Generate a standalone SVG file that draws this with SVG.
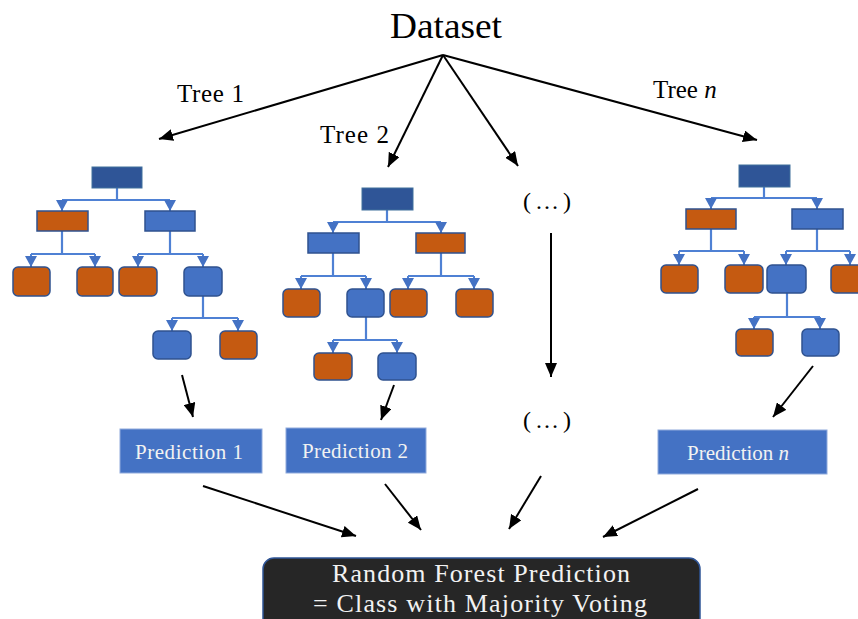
<svg xmlns="http://www.w3.org/2000/svg" width="858" height="619" viewBox="0 0 858 619">
<defs>
<marker id="ah" markerUnits="userSpaceOnUse" markerWidth="14" markerHeight="12" viewBox="0 0 14 12" refX="14" refY="6" orient="auto"><path d="M0,0 L14,6 L0,12 z" fill="#000"/></marker>
<marker id="tb" markerUnits="userSpaceOnUse" markerWidth="11" markerHeight="12" viewBox="0 0 11 12" refX="11" refY="6" orient="auto"><path d="M0,0 L11,6 L0,12 z" fill="#4472C4"/></marker>
<style>
.root{fill:#2F5597;stroke:#41719C;stroke-width:1}
.or{fill:#C55A11;stroke:#2F528F;stroke-width:1.5}
.bl{fill:#4472C4;stroke:#2F528F;stroke-width:1.5}
.tc{fill:none;stroke:#4F81D4;stroke-width:2.2}
.ta{fill:none;stroke:#4F81D4;stroke-width:2;marker-end:url(#tb)}
.ar{fill:none;stroke:#000;stroke-width:2;marker-end:url(#ah)}
.t{font-family:"Liberation Serif","Times New Roman",serif;fill:#000}
.pred{fill:#4472C4;stroke:#8FAADC;stroke-width:1}
.pt{font-family:"Liberation Serif","Times New Roman",serif;fill:#F2F2F2;font-size:21px}
.ft{font-family:"Liberation Serif","Times New Roman",serif;fill:#F2F2F2;font-size:26px}
</style>
</defs>
<rect width="858" height="619" fill="#fff"/>

<g id="labels">
<text class="t" x="390" y="38" font-size="35" textLength="112" lengthAdjust="spacingAndGlyphs">Dataset</text>
<text class="t" x="177" y="102" font-size="25" textLength="67">Tree 1</text>
<text class="t" x="320" y="143" font-size="25" textLength="69">Tree 2</text>
<text class="t" x="653" y="98" font-size="25">Tree <tspan font-style="italic">n</tspan></text>
<text class="t" x="523" y="209" font-size="24" textLength="48">(…)</text>
<text class="t" x="523" y="428" font-size="24" textLength="48">(…)</text>
</g>

<g id="connectors">
<path class="ar" d="M443,55 L159,139"/>
<path class="ar" d="M443,55 L388,167"/>
<path class="ar" d="M443,55 L518,166"/>
<path class="ar" d="M443,55 L757,140"/>
<path class="ar" d="M551,233 L551,377"/>
<path class="ar" d="M182,375 L193,417"/>
<path class="ar" d="M394,385 L381,420"/>
<path class="ar" d="M813,366 L773,417"/>
<path class="ar" d="M203,486 L356,536"/>
<path class="ar" d="M385,484 L421,530"/>
<path class="ar" d="M541,476 L509,529"/>
<path class="ar" d="M698,489 L603,537"/>
</g>

<g id="tree1">
<path class="tc" d="M117,188 V200 M62,200 H170 M62,231 V254 M31,254 H95 M170,231 V254 M138,254 H203 M203,296 V318 M172,318 H238"/>
<path class="ta" d="M62,200 V211"/>
<path class="ta" d="M170,200 V211"/>
<path class="ta" d="M31,254 V267"/>
<path class="ta" d="M95,254 V267"/>
<path class="ta" d="M138,254 V267"/>
<path class="ta" d="M203,254 V267"/>
<path class="ta" d="M172,318 V331"/>
<path class="ta" d="M238,318 V331"/>
<rect class="root" x="92" y="167" width="50" height="21"/>
<rect class="or" x="37" y="211" width="51" height="20"/>
<rect class="bl" x="145" y="211" width="50" height="20"/>
<rect class="or" x="13" y="267" width="37" height="29" rx="5"/>
<rect class="or" x="77" y="267" width="36" height="29" rx="5"/>
<rect class="or" x="119" y="267" width="38" height="29" rx="5"/>
<rect class="bl" x="184" y="267" width="38" height="29" rx="5"/>
<rect class="bl" x="153" y="331" width="38" height="28" rx="5"/>
<rect class="or" x="220" y="331" width="37" height="28" rx="5"/>
</g>

<g id="tree2">
<path class="tc" d="M387,210 V222 M333,222 H441 M333,253 V276 M301,276 H366 M441,253 V276 M408,276 H474 M366,317 V340 M333,340 H397"/>
<path class="ta" d="M333,222 V233"/>
<path class="ta" d="M441,222 V233"/>
<path class="ta" d="M301,276 V289"/>
<path class="ta" d="M366,276 V289"/>
<path class="ta" d="M408,276 V289"/>
<path class="ta" d="M474,276 V289"/>
<path class="ta" d="M333,340 V353"/>
<path class="ta" d="M397,340 V353"/>
<rect class="root" x="362" y="188" width="51" height="22"/>
<rect class="bl" x="308" y="233" width="51" height="20"/>
<rect class="or" x="416" y="233" width="49" height="20"/>
<rect class="or" x="283" y="289" width="37" height="28" rx="5"/>
<rect class="bl" x="347" y="289" width="37" height="28" rx="5"/>
<rect class="or" x="390" y="289" width="37" height="28" rx="5"/>
<rect class="or" x="456" y="289" width="37" height="28" rx="5"/>
<rect class="or" x="314" y="353" width="38" height="27" rx="5"/>
<rect class="bl" x="378" y="353" width="38" height="27" rx="5"/>
</g>

<g id="treeN">
<path class="tc" d="M764,187 V198 M711,198 H817 M711,229 V251 M679,251 H744 M817,229 V251 M786,251 H850 M787,293 V317 M754,317 H820"/>
<path class="ta" d="M711,198 V209"/>
<path class="ta" d="M817,198 V209"/>
<path class="ta" d="M679,251 V265"/>
<path class="ta" d="M744,251 V265"/>
<path class="ta" d="M786,251 V265"/>
<path class="ta" d="M850,251 V265"/>
<path class="ta" d="M754,317 V329"/>
<path class="ta" d="M820,317 V329"/>
<rect class="root" x="739" y="165" width="51" height="22"/>
<rect class="or" x="686" y="209" width="50" height="20"/>
<rect class="bl" x="792" y="209" width="51" height="20"/>
<rect class="or" x="661" y="265" width="37" height="28" rx="5"/>
<rect class="or" x="725" y="265" width="38" height="28" rx="5"/>
<rect class="bl" x="767" y="265" width="39" height="28" rx="5"/>
<rect class="or" x="831" y="265" width="38" height="28" rx="5"/>
<rect class="or" x="736" y="329" width="37" height="27" rx="5"/>
<rect class="bl" x="802" y="329" width="37" height="27" rx="5"/>
</g>

<g id="prediction1">
<rect class="pred" x="120" y="429" width="142" height="44"/>
<text class="pt" x="135" y="459" textLength="108">Prediction 1</text>
</g>
<g id="prediction2">
<rect class="pred" x="286" y="428" width="140" height="45"/>
<text class="pt" x="302" y="458" textLength="106">Prediction 2</text>
</g>
<g id="predictionN">
<rect class="pred" x="658" y="430" width="169" height="44"/>
<text class="pt" x="687" y="460">Prediction <tspan font-style="italic">n</tspan></text>
</g>

<g id="final">
<rect x="263" y="558" width="437" height="80" rx="11" fill="#262626" stroke="#2F5597" stroke-width="1.5"/>
<text class="ft" x="481" y="582" text-anchor="middle" textLength="298">Random Forest Prediction</text>
<text class="ft" x="480" y="612" text-anchor="middle" textLength="334">= Class with Majority Voting</text>
</g>
</svg>
